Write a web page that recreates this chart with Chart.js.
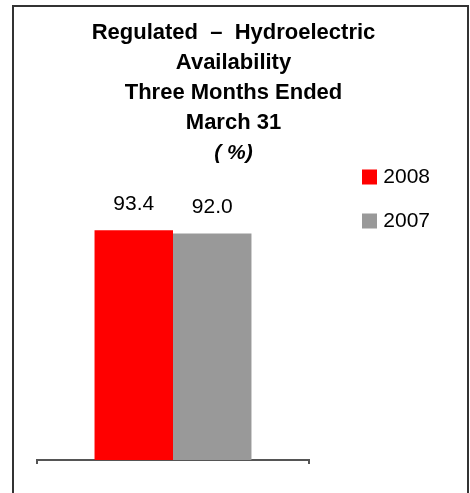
<!DOCTYPE html>
<html>
<head>
<meta charset="utf-8">
<script src="https://cdn.jsdelivr.net/npm/chart.js@4"></script>
<style>
  body { margin: 0; background: #fff; overflow: hidden; }
  #wrap { position: absolute; left: 0; top: 0; width: 470px; height: 493px; }
  #frame { position: absolute; left: 12px; top: 5px; width: 457px; height: 500px; border: 2px solid #333; box-sizing: border-box; pointer-events: none; }
</style>
</head>
<body>
<div id="wrap"><canvas id="availChart"></canvas></div>
<div id="frame"></div>
<script>
// data
const categories = ['Q1'];
const seriesNames = ['2008', '2007'];
const values2008 = [93.4];
const values2007 = [92.0];
const seriesColors = ['#ff0000', '#999999'];
const titleLines = ['Regulated  \u2013  Hydroelectric', 'Availability', 'Three Months Ended', 'March 31'];
const unitLabel = '( %)';

const fontName = '"Liberation Sans", Arial, sans-serif';

// value labels above the bars
const valueLabels = {
    id: 'valueLabels',
    afterDatasetsDraw(chart) {
        const ctx = chart.ctx;
        ctx.save();
        ctx.font = '21px ' + fontName;
        ctx.fillStyle = '#000';
        ctx.textAlign = 'center';
        ctx.textBaseline = 'middle';
        chart.data.datasets.forEach((ds, i) => {
            chart.getDatasetMeta(i).data.forEach((bar, j) => {
                ctx.fillText(Number(ds.data[j]).toFixed(1), bar.x, bar.y - 26);
            });
        });
        ctx.restore();
    }
};

const ctx = document.getElementById('availChart');
new Chart(ctx, {
    type: 'bar',
    data: {
        labels: categories,
        datasets: [
            { label: seriesNames[0], data: values2008, backgroundColor: seriesColors[0], borderWidth: 0 },
            { label: seriesNames[1], data: values2007, backgroundColor: seriesColors[1], borderWidth: 0 }
        ]
    },
    options: {
        responsive: true,
        maintainAspectRatio: false,
        animation: false,
        layout: { padding: { left: 37, right: 40, top: 0, bottom: 29 } },
        datasets: { bar: { categoryPercentage: 0.577, barPercentage: 1.0 } },
        scales: {
            x: {
                ticks: { display: false },
                grid: { display: true, offset: true, drawOnChartArea: false, drawTicks: true, tickLength: 4, color: '#555', lineWidth: 2 },
                border: { display: true, color: '#555', width: 2 }
            },
            y: {
                position: 'right',
                min: 0,
                max: 128.6,
                ticks: { display: false },
                grid: { display: false },
                border: { display: false },
                afterFit(scale) { scale.width = 30; } // 凡例との隙間
            }
        },
        plugins: {
            title: {
                display: true,
                text: titleLines,
                color: '#000',
                font: { family: fontName, size: 22, weight: 'bold', lineHeight: '30px' },
                padding: { top: 18, bottom: 0 }
            },
            subtitle: {
                display: true,
                text: unitLabel,
                color: '#000',
                font: { family: fontName, size: 21, weight: 'bold', style: 'italic', lineHeight: '30px' },
                padding: { top: 0, bottom: -24.5 }
            },
            legend: {
                position: 'right',
                align: 'start',
                fullSize: false,
                maxWidth: 91,
                labels: {
                    boxWidth: 15,
                    boxHeight: 15,
                    padding: 23,
                    color: '#000',
                    textAlign: 'right',
                    font: { family: fontName, size: 21 }
                }
            },
            tooltip: { enabled: false }
        }
    },
    plugins: [valueLabels]
});
</script>
</body>
</html>
